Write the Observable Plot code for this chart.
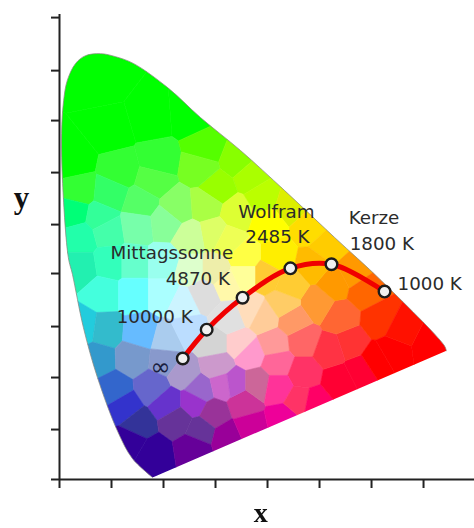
<!DOCTYPE html>
<html>
<head>
<meta charset="utf-8">
<script src="https://cdn.jsdelivr.net/npm/d3@7"></script>
<script src="https://cdn.jsdelivr.net/npm/@observablehq/plot@0.6"></script>
<style>
html,body{margin:0;padding:0;background:#fff}
svg{display:block;filter:blur(0.6px)}
</style>
</head>
<body>
<script>
// Spectral locus (CIE x, y)
const locusX = [.179,.140,.112,.073,.046,.025,.017,.006,.004,.008,.015,.031,.050,.079,.108,.142,.208,.271,.348,.433,.529,.619,.740,.744];
const locusY = [.004,.041,.093,.198,.295,.398,.431,.575,.672,.736,.775,.808,.823,.827,.821,.808,.761,.703,.639,.561,.470,.386,.260,.250];

// Patch colour samples
const patchX = [.025,.098,.175,.252,.079,.037,.117,.190,.281,.342,.367,.304,.271,.181,.098,.027,.079,.156,.227,.281,.342,.392,.444,.483,.515,.400,.419,.354,.296,.040,.092,.150,.204,.252,.323,.040,.098,.085,.142,.142,.200,.200,.252,.238,.277,.323,.300,.354,.046,.088,.156,.208,.246,.296,.348,.329,.367,.073,.142,.204,.104,.181,.238,.271,.304,.315,.123,.208,.258,.354,.150,.227,.296,.271,.181,.137,.258,.323,.367,.367,.412,.469,.419,.469,.335,.381,.419,.431,.463,.488,.540,.579,.560,.521,.540,.496,.450,.392,.431,.400,.444,.529,.565,.488,.587,.617,.642,.713,.656,.608];
const patchY = [.619,.678,.701,.707,.775,.561,.600,.619,.643,.619,.590,.567,.606,.581,.555,.519,.509,.536,.528,.532,.517,.548,.532,.489,.454,.497,.431,.431,.478,.470,.484,.493,.499,.470,.464,.412,.421,.361,.421,.361,.361,.421,.406,.342,.361,.381,.406,.396,.295,.289,.284,.270,.289,.264,.264,.313,.328,.235,.237,.231,.173,.179,.206,.173,.221,.183,.140,.148,.148,.148,.105,.115,.128,.095,.050,.076,.062,.082,.101,.245,.264,.270,.225,.206,.186,.186,.179,.115,.153,.148,.192,.212,.264,.251,.315,.342,.309,.315,.342,.396,.377,.381,.400,.416,.367,.309,.251,.260,.289,.231];
const patchColor = ["#00ff00","#00ff00","#00ff00","#00ff00","#00ff00","#33ff33","#33ff33","#33ff33","#55ff00","#88ff00","#aaff00","#99ff00","#77ff22","#55ff44","#33ff66","#00ff77","#33ff99","#55ff66","#88ff66","#aaff44","#ddff33","#bbff00","#ddee00","#ffdd00","#ffcc00","#ffff00","#ffee00","#ffff44","#ddff66","#22ffaa","#44ffaa","#77ffaa","#88ff99","#ccff99","#eeff55","#22f0b0","#33ffbb","#44ffdd","#66ffcc","#66ffff","#aaffff","#99ffee","#ddffcc","#ccf4ff","#dddddd","#fff8aa","#eeeeaa","#ffff99","#22ccdd","#33bbcc","#66bbff","#aaccee","#bbddff","#d4d4d4","#ffcccc","#e0e0e0","#ffddbb","#3399cc","#7799cc","#8899cc","#3366cc","#6666cc","#aa99cc","#9966cc","#cc99cc","#cc66cc","#3333cc","#6633cc","#9933cc","#cc3399","#333399","#663399","#993399","#663399","#330099","#330099","#660099","#990099","#cc0099","#ff99cc","#ff9999","#ff6666","#ff6699","#ff3366","#bb55cc","#cc6699","#ff3399","#ee0099","#ff3366","#ff0066","#ff0033","#ff0033","#ff3333","#ff3344","#ff6633","#ff9933","#ff9966","#ffcc99","#ffcc66","#ffcc33","#ffcc33","#ff9900","#ff9900","#ffbb00","#ff6600","#ff3300","#ff0000","#ff0000","#ff1100","#ff0000"];

// Black-body curve
const curveX = [.237,.283,.352,.444,.523,.625];
const curveY = [.235,.291,.353,.410,.418,.365];

// Labels
const labelText = ["Wolfram","2485 K","Mittagssonne","4870 K","10000 K"];
const labelX = [.417,.419,.216,.266,.183];
const labelY = [.519,.470,.439,.390,.315];
const startText = ["Kerze","1800 K","1000 K"];
const startX = [.556,.558,.650];
const startY = [.507,.458,.379];

const xTicks = [0,.1,.2,.3,.4,.5,.6,.7];
const yTicks = [0,.097,.198,.297,.400,.495,.596,.697,.794,.897];

const idx = locusX.map((_, i) => i);
const patches = patchX.map((_, i) => i);
const font = "'DejaVu Sans', sans-serif";

function clipToLocus(index, scales, values, dimensions, context, next) {
  const g = next(index, scales, values, dimensions, context);
  const path = d3.line().curve(d3.curveCatmullRom)
    .x(i => scales.x(locusX[i])).y(i => scales.y(locusY[i]))(idx) + "Z";
  const cp = d3.create("svg:clipPath").attr("id", "locus-clip");
  cp.append("path").attr("d", path);
  g.appendChild(cp.node());
  g.setAttribute("clip-path", "url(#locus-clip)");
  return g;
}

const chart = Plot.plot({
  width: 474, height: 528,
  marginLeft: 59, marginRight: 0, marginTop: 14, marginBottom: 49,
  style: {background: "#fff", overflow: "visible"},
  x: {domain: [0, .798], axis: null},
  y: {domain: [0, .903], axis: null},
  color: {type: "identity"},
  marks: [
    Plot.voronoi(patches, {
      x: i => patchX[i], y: i => patchY[i],
      fill: i => patchColor[i], stroke: i => patchColor[i], strokeWidth: 0.6,
      render: clipToLocus
    }),
    Plot.line(idx, {
      x: i => locusX[i], y: i => locusY[i], curve: "catmull-rom",
      stroke: "#8a8a80", strokeWidth: 1, strokeOpacity: 0.75
    }),
    Plot.ruleX([0], {stroke: "#222", strokeWidth: 2}),
    Plot.ruleY([0], {stroke: "#222", strokeWidth: 2}),
    Plot.axisX(xTicks, {anchor: "bottom", tickSize: 9, tickFormat: () => "", label: null, stroke: "#222", strokeWidth: 2}),
    Plot.axisY(yTicks, {anchor: "left", tickSize: 8, tickFormat: () => "", label: null, stroke: "#222", strokeWidth: 2}),
    Plot.line(curveX.map((_, i) => i), {
      x: i => curveX[i], y: i => curveY[i], curve: "catmull-rom",
      stroke: "#f00000", strokeWidth: 5
    }),
    Plot.dot(curveX.map((_, i) => i), {
      x: i => curveX[i], y: i => curveY[i], r: 5.8,
      fill: "#f0f0f0", stroke: "#1c1c1c", strokeWidth: 2.4
    }),
    Plot.text(labelText, {
      x: (_, i) => labelX[i], y: (_, i) => labelY[i], text: d => d,
      fontFamily: font, fontSize: 18.3, fill: "#2b2b2b", textAnchor: "middle"
    }),
    Plot.text(startText, {
      x: (_, i) => startX[i], y: (_, i) => startY[i], text: d => d,
      fontFamily: font, fontSize: 18.3, fill: "#2b2b2b", textAnchor: "start"
    }),
    Plot.text(["∞"], {
      x: [.194], y: [.218], text: d => d,
      fontFamily: font, fontSize: 24, fill: "#1a2040"
    }),
    Plot.text(["y"], {
      x: [-.073], y: [.547], text: d => d,
      fontFamily: "'Liberation Serif', serif", fontSize: 31, fontWeight: "bold", fill: "#111"
    }),
    Plot.text(["x"], {
      x: [.387], y: [-.066], text: d => d,
      fontFamily: "'Liberation Serif', serif", fontSize: 28, fontWeight: "bold", fill: "#111"
    })
  ]
});
document.body.appendChild(chart);
</script>
</body>
</html>
